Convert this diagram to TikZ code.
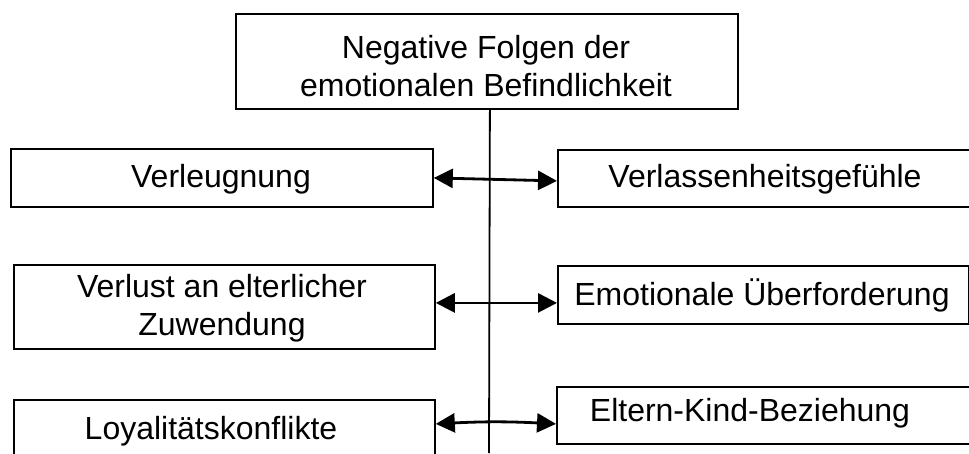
\documentclass[tikz,border=0pt]{standalone}
\usepackage{fontspec}
\setmainfont{Liberation Sans}
\usetikzlibrary{arrows.meta}
\begin{document}
\begin{tikzpicture}[x=1pt,y=-1pt,
  box/.style={draw=black, line width=1.8pt, rectangle, inner sep=0pt, anchor=north west},
  txt/.style={font=\fontsize{32}{38}\selectfont, align=center, inner sep=0pt},
  arr/.style={line width=2.8pt, {Triangle[length=19pt,width=19pt]}-{Triangle[length=19pt,width=19pt]}},
  stemline/.style={line width=1.8pt}]
  \useasboundingbox (0,0) rectangle (969,453);
  \clip (0,0) rectangle (969,453);
  \fill[white] (0,0) rectangle (969,453);

  % boxes (top-left corner, size)
  \node[box, minimum width=502pt, minimum height=95pt] (top) at (235,13) {};
  \node[box, minimum width=422pt, minimum height=58pt] (verl) at (10,148) {};
  \node[box, minimum width=420pt, minimum height=57pt] (verlass) at (557,149) {};
  \node[box, minimum width=421pt, minimum height=84pt] (verlust) at (13,264) {};
  \node[box, minimum width=411pt, minimum height=58pt] (ueber) at (557,265) {};
  \node[box, minimum width=421pt, minimum height=66pt] (loyal) at (13,399) {};
  \node[box, minimum width=420pt, minimum height=57pt] (eltern) at (556,386) {};

  % labels
  \node[txt] (ttop) at (486,66) {Negative Folgen der\\emotionalen Befindlichkeit};
  \node[txt] (tverl) at (221,179) {Verleugnung};
  \node[txt] (tverlass) at (765,179) {Verlassenheitsgefühle};
  \node[txt] (tverlust) at (222,308) {Verlust an elterlicher\\Zuwendung};
  \node[txt] (tueber) at (762,295) {Emotionale Überforderung};
  \node[txt] (tloyal) at (211,431) {Loyalitätskonflikte};
  \node[txt] (teltern) at (750,413) {Eltern-Kind-Beziehung};

  % double arrows between the two columns
  \draw[arr] (verl.east) -- ([yshift=-2.5pt]verlass.west);
  \draw[arr] ([yshift=4pt]verlust.east) -- ([yshift=4pt]verlust.east -| ueber.west);
  \draw[arr] ([yshift=9pt]loyal.east) to[bend left=3] ([yshift=-8.5pt]eltern.west);

  % central stem
  \coordinate (stemend) at (489,453);
  \draw[stemline] ([xshift=3pt]top.south) -- (stemend);
\end{tikzpicture}
\end{document}
